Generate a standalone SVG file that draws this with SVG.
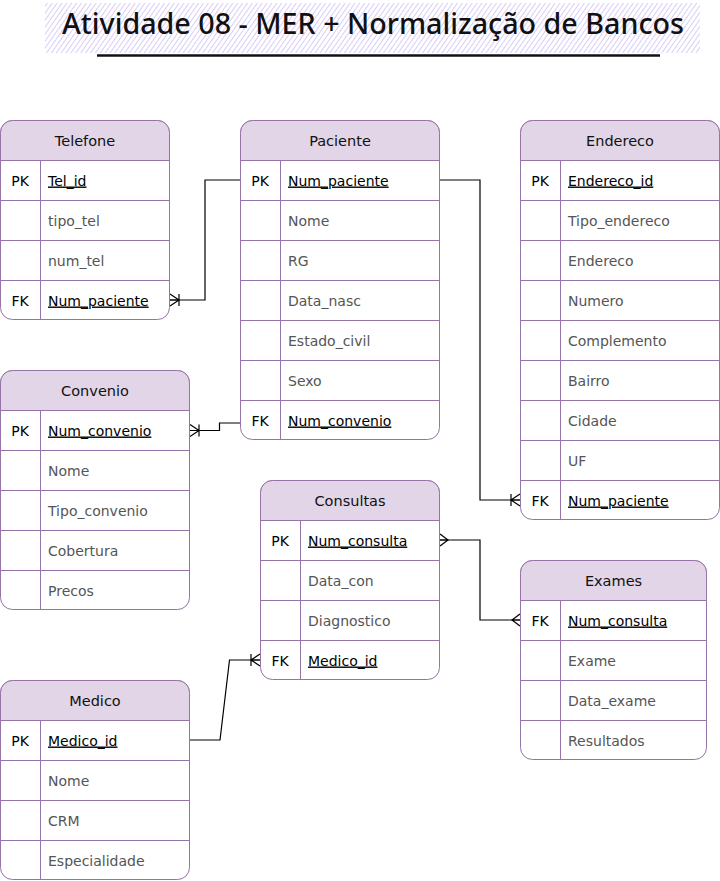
<svg xmlns="http://www.w3.org/2000/svg" width="720" height="881" viewBox="0 0 720 881">
  <style>
    text { font-family: "DejaVu Sans", "Noto Sans", sans-serif; font-size: 14px; }
    .box { fill: #ffffff; stroke: #9673a6; stroke-width: 1; }
    .head { fill: #e1d5e7; stroke: #9673a6; stroke-width: 1; }
    .grid { fill: none; stroke: #9673a6; stroke-width: 1; }
    .ttl { fill: #111111; text-anchor: middle; font-size: 14.5px; }
    .key { fill: #000000; text-anchor: middle; }
    .fld { fill: #555555; }
    .kf { fill: #000000; text-decoration: underline; }
    .edge { fill: none; stroke: #000000; stroke-width: 1.2; }
    .title { font-family: "Noto Sans", "DejaVu Sans", sans-serif; font-size: 29px; font-weight: 500; fill: #111111; text-anchor: middle; }
  </style>
  <defs>
    <pattern id="hatch" width="4" height="4" patternUnits="userSpaceOnUse" patternTransform="rotate(35)">
      <line x1="0" y1="0" x2="0" y2="4" stroke="#b9a3ee" stroke-width="1.1"/>
    </pattern>
    <!-- crow's foot, one-or-many -->
    <marker id="mandMany" markerUnits="userSpaceOnUse" markerWidth="20" markerHeight="20" viewBox="-15 -10 20 20" refX="0" refY="0" orient="auto-start-reverse" overflow="visible">
      <path d="M0,-6 L-9,0 L0,6 M0,0 H-9 M-9,-6 V6" fill="none" stroke="#000" stroke-width="1.2"/>
    </marker>
    <!-- crow's foot, many -->
    <marker id="many" markerUnits="userSpaceOnUse" markerWidth="20" markerHeight="20" viewBox="-15 -10 20 20" refX="0" refY="0" orient="auto-start-reverse" overflow="visible">
      <path d="M0,-6 L-8,0 L0,6 M0,0 H-8" fill="none" stroke="#000" stroke-width="1.2"/>
    </marker>
  </defs>

  <rect width="720" height="881" fill="#ffffff"/>

  <!-- title -->
  <g id="title">
    <rect x="45" y="3" width="655" height="50" fill="url(#hatch)"/>
    <text class="title" x="373" y="34" textLength="622" lengthAdjust="spacingAndGlyphs">Atividade 08 - MER + Normalização de Bancos</text>
    <line x1="97" y1="55.5" x2="660" y2="55.5" stroke="#111111" stroke-width="2.5"/>
  </g>

  <!-- connectors -->
  <g id="connectors">
    <path class="edge" d="M170,300 H205 V180 H240" marker-start="url(#mandMany)"/>
    <path class="edge" d="M190,430.5 H219.5 V423 H240" marker-start="url(#mandMany)"/>
    <path class="edge" d="M440,180 H480 V500 H520" marker-end="url(#mandMany)"/>
    <path class="edge" d="M440,540 H480 V620 H520" marker-start="url(#many)" marker-end="url(#many)"/>
    <path class="edge" d="M190,740 H220 L229.5,660 H260" marker-end="url(#mandMany)"/>
  </g>

  <!-- Telefone -->
  <g id="telefone">
    <rect class="box" x="0.5" y="120.5" width="169" height="199" rx="12"/>
    <path class="head" d="M0.5,160.5 V132.5 A12,12 0 0 1 12.5,120.5 H157.5 A12,12 0 0 1 169.5,132.5 V160.5 Z"/>
    <path class="grid" d="M0.5,200.5 H169.5 M0.5,240.5 H169.5 M0.5,280.5 H169.5 M40.5,160.5 V319.5"/>
    <text class="ttl" x="85" y="145.5">Telefone</text>
    <text class="key" x="20" y="185.5">PK</text><text class="kf" x="48" y="185.5">Tel_id</text>
    <text class="fld" x="48" y="225.5">tipo_tel</text>
    <text class="fld" x="48" y="265.5">num_tel</text>
    <text class="key" x="20" y="305.5">FK</text><text class="kf" x="48" y="305.5">Num_paciente</text>
  </g>

  <!-- Paciente -->
  <g id="paciente">
    <rect class="box" x="240.5" y="120.5" width="199" height="319" rx="12"/>
    <path class="head" d="M240.5,160.5 V132.5 A12,12 0 0 1 252.5,120.5 H427.5 A12,12 0 0 1 439.5,132.5 V160.5 Z"/>
    <path class="grid" d="M240.5,200.5 H439.5 M240.5,240.5 H439.5 M240.5,280.5 H439.5 M240.5,320.5 H439.5 M240.5,360.5 H439.5 M240.5,400.5 H439.5 M280.5,160.5 V439.5"/>
    <text class="ttl" x="340" y="145.5">Paciente</text>
    <text class="key" x="260" y="185.5">PK</text><text class="kf" x="288" y="185.5">Num_paciente</text>
    <text class="fld" x="288" y="225.5">Nome</text>
    <text class="fld" x="288" y="265.5">RG</text>
    <text class="fld" x="288" y="305.5">Data_nasc</text>
    <text class="fld" x="288" y="345.5">Estado_civil</text>
    <text class="fld" x="288" y="385.5">Sexo</text>
    <text class="key" x="260" y="425.5">FK</text><text class="kf" x="288" y="425.5">Num_convenio</text>
  </g>

  <!-- Endereco -->
  <g id="endereco">
    <rect class="box" x="520.5" y="120.5" width="199" height="399" rx="12"/>
    <path class="head" d="M520.5,160.5 V132.5 A12,12 0 0 1 532.5,120.5 H707.5 A12,12 0 0 1 719.5,132.5 V160.5 Z"/>
    <path class="grid" d="M520.5,200.5 H719.5 M520.5,240.5 H719.5 M520.5,280.5 H719.5 M520.5,320.5 H719.5 M520.5,360.5 H719.5 M520.5,400.5 H719.5 M520.5,440.5 H719.5 M520.5,480.5 H719.5 M560.5,160.5 V519.5"/>
    <text class="ttl" x="620" y="145.5">Endereco</text>
    <text class="key" x="540" y="185.5">PK</text><text class="kf" x="568" y="185.5">Endereco_id</text>
    <text class="fld" x="568" y="225.5">Tipo_endereco</text>
    <text class="fld" x="568" y="265.5">Endereco</text>
    <text class="fld" x="568" y="305.5">Numero</text>
    <text class="fld" x="568" y="345.5">Complemento</text>
    <text class="fld" x="568" y="385.5">Bairro</text>
    <text class="fld" x="568" y="425.5">Cidade</text>
    <text class="fld" x="568" y="465.5">UF</text>
    <text class="key" x="540" y="505.5">FK</text><text class="kf" x="568" y="505.5">Num_paciente</text>
  </g>

  <!-- Convenio -->
  <g id="convenio">
    <rect class="box" x="0.5" y="370.5" width="189" height="239" rx="12"/>
    <path class="head" d="M0.5,410.5 V382.5 A12,12 0 0 1 12.5,370.5 H177.5 A12,12 0 0 1 189.5,382.5 V410.5 Z"/>
    <path class="grid" d="M0.5,450.5 H189.5 M0.5,490.5 H189.5 M0.5,530.5 H189.5 M0.5,570.5 H189.5 M40.5,410.5 V609.5"/>
    <text class="ttl" x="95" y="395.5">Convenio</text>
    <text class="key" x="20" y="435.5">PK</text><text class="kf" x="48" y="435.5">Num_convenio</text>
    <text class="fld" x="48" y="475.5">Nome</text>
    <text class="fld" x="48" y="515.5">Tipo_convenio</text>
    <text class="fld" x="48" y="555.5">Cobertura</text>
    <text class="fld" x="48" y="595.5">Precos</text>
  </g>

  <!-- Consultas -->
  <g id="consultas">
    <rect class="box" x="260.5" y="480.5" width="179" height="199" rx="12"/>
    <path class="head" d="M260.5,520.5 V492.5 A12,12 0 0 1 272.5,480.5 H427.5 A12,12 0 0 1 439.5,492.5 V520.5 Z"/>
    <path class="grid" d="M260.5,560.5 H439.5 M260.5,600.5 H439.5 M260.5,640.5 H439.5 M300.5,520.5 V679.5"/>
    <text class="ttl" x="350" y="505.5">Consultas</text>
    <text class="key" x="280" y="545.5">PK</text><text class="kf" x="308" y="545.5">Num_consulta</text>
    <text class="fld" x="308" y="585.5">Data_con</text>
    <text class="fld" x="308" y="625.5">Diagnostico</text>
    <text class="key" x="280" y="665.5">FK</text><text class="kf" x="308" y="665.5">Medico_id</text>
  </g>

  <!-- Exames -->
  <g id="exames">
    <rect class="box" x="520.5" y="560.5" width="186" height="199" rx="12"/>
    <path class="head" d="M520.5,600.5 V572.5 A12,12 0 0 1 532.5,560.5 H694.5 A12,12 0 0 1 706.5,572.5 V600.5 Z"/>
    <path class="grid" d="M520.5,640.5 H706.5 M520.5,680.5 H706.5 M520.5,720.5 H706.5 M560.5,600.5 V759.5"/>
    <text class="ttl" x="613.5" y="585.5">Exames</text>
    <text class="key" x="540" y="625.5">FK</text><text class="kf" x="568" y="625.5">Num_consulta</text>
    <text class="fld" x="568" y="665.5">Exame</text>
    <text class="fld" x="568" y="705.5">Data_exame</text>
    <text class="fld" x="568" y="745.5">Resultados</text>
  </g>

  <!-- Medico -->
  <g id="medico">
    <rect class="box" x="0.5" y="680.5" width="189" height="199" rx="12"/>
    <path class="head" d="M0.5,720.5 V692.5 A12,12 0 0 1 12.5,680.5 H177.5 A12,12 0 0 1 189.5,692.5 V720.5 Z"/>
    <path class="grid" d="M0.5,760.5 H189.5 M0.5,800.5 H189.5 M0.5,840.5 H189.5 M40.5,720.5 V879.5"/>
    <text class="ttl" x="95" y="705.5">Medico</text>
    <text class="key" x="20" y="745.5">PK</text><text class="kf" x="48" y="745.5">Medico_id</text>
    <text class="fld" x="48" y="785.5">Nome</text>
    <text class="fld" x="48" y="825.5">CRM</text>
    <text class="fld" x="48" y="865.5">Especialidade</text>
  </g>
</svg>
